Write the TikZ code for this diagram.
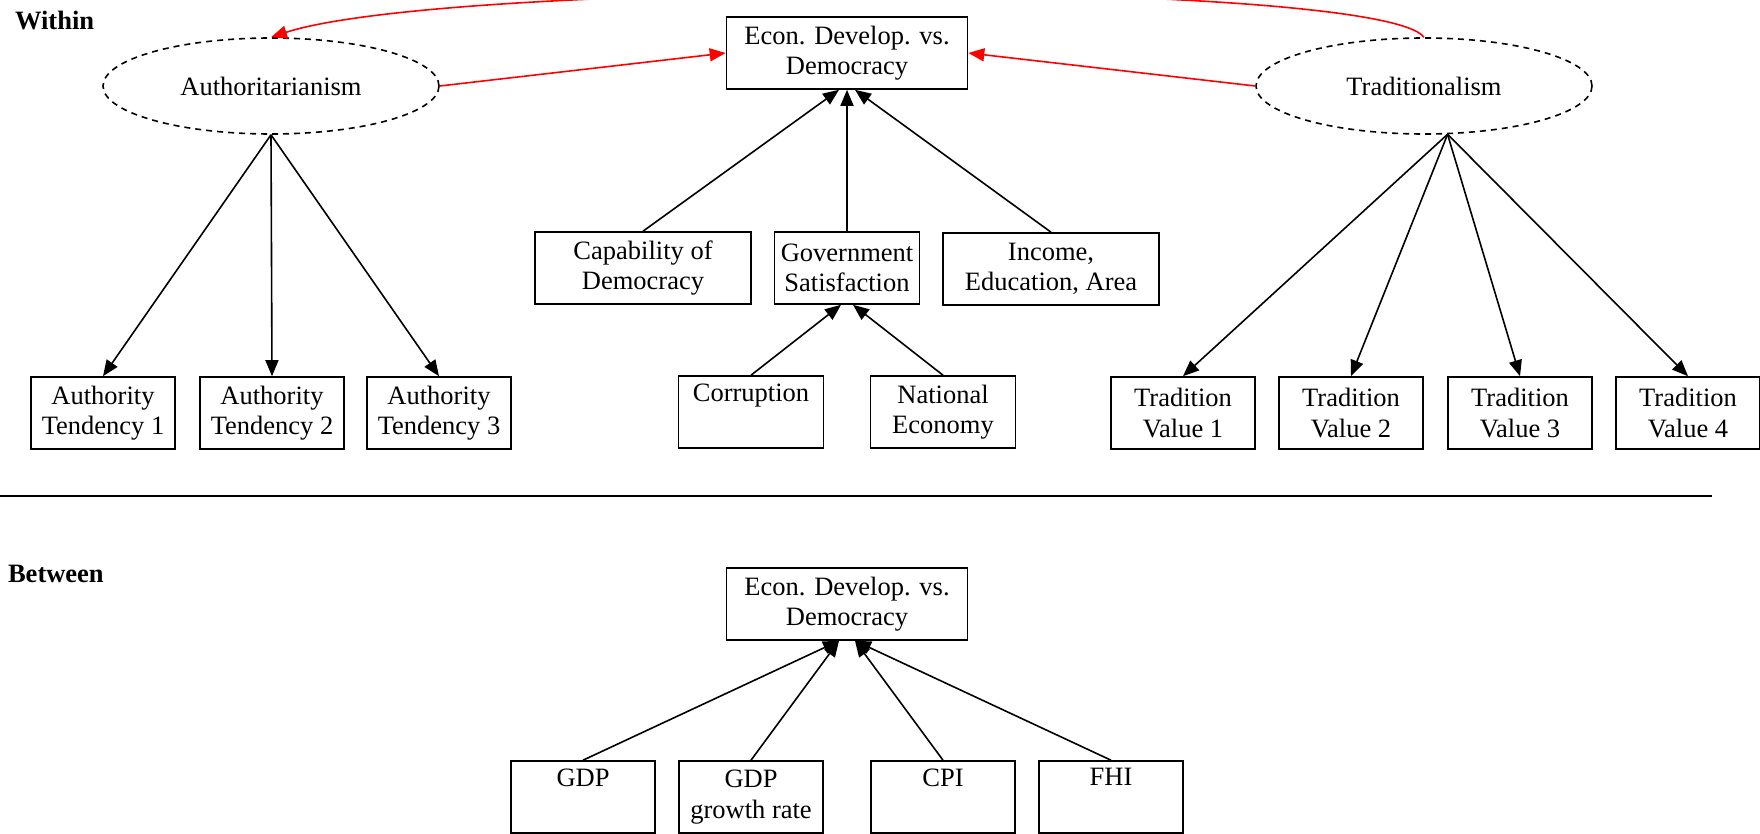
\documentclass[tikz,border=0pt]{standalone}
\usepackage{fontspec}
\setmainfont{Liberation Serif}
\usetikzlibrary{shapes.geometric,arrows.meta}
\tikzset{
  var/.style={draw, line width=0.8pt, align=center, minimum height=36pt, inner sep=2pt},
  latent/.style={draw, ellipse, line width=0.8pt, dash pattern=on 3pt off 2.5pt,
    minimum width=168pt, minimum height=48pt, inner sep=0pt},
  link/.style={line width=0.8pt, -{Triangle[length=8pt,width=6.5pt]}},
  covlink/.style={link, red}
}
\begin{document}
\begin{tikzpicture}[x=0.5pt,y=-0.5pt,every node/.style={font=\fontsize{13.25}{15.2}\selectfont}]
\clip (0,0) rectangle (1760,834);
\node[anchor=west] (within) at (8,21) {\textbf{Within}};
\node[anchor=west] (between) at (1,574) {\textbf{Between}};
% within level
\node[latent] (auth) at (271,86) {Authoritarianism};
\node[var, minimum width=120.5pt] (econ) at (847,53) {Econ. Develop. vs.\\Democracy};
\node[latent] (trad) at (1424,86) {Traditionalism};
\node[var, minimum width=108pt] (cap) at (643,268) {Capability of\\Democracy};
\node[var, minimum width=72.5pt] (gov) at (847,268) {Government\\Satisfaction};
\node[var, minimum width=108pt] (inc) at (1051,269) {Income,\\Education, Area};
\node[var, minimum width=72.5pt] (cor) at (751,412) {Corruption\\\strut};
\node[var, minimum width=72.5pt] (nat) at (943,412) {National\\Economy};
\node[var, minimum width=72pt] (at1) at (103,413) {Authority\\Tendency 1};
\node[var, minimum width=72pt] (at2) at (272,413) {Authority\\Tendency 2};
\node[var, minimum width=72pt] (at3) at (439,413) {Authority\\Tendency 3};
\node[var, minimum width=72pt] (tv1) at (1183,413) {Tradition\\Value 1};
\node[var, minimum width=72pt] (tv2) at (1351,413) {Tradition\\Value 2};
\node[var, minimum width=72pt] (tv3) at (1520,413) {Tradition\\Value 3};
\node[var, minimum width=72pt] (tv4) at (1688,413) {Tradition\\Value 4};
\draw[link] (cap.north) -- ([xshift=-4pt]econ.south);
\draw[link] (gov.north) -- (econ.south);
\draw[link] (inc.north) -- ([xshift=4pt]econ.south);
\draw[link] (cor.north) -- ([xshift=-3pt]gov.south);
\draw[link] (nat.north) -- ([xshift=3pt]gov.south);
\foreach \n in {at1,at2,at3}
  \draw[link] (auth.south) -- (\n.north);
\foreach \n in {tv1,tv2,tv3,tv4}
  \draw[link] (trad.-64) -- (\n.north);
\draw[covlink] (auth.east) -- (econ.west);
\draw[covlink] (trad.west) -- (econ.east);
\draw[covlink] (trad.north) .. controls (1380,-21) and (450,-21) .. (auth.north);
\draw[line width=0.8pt] (0,496) -- (1712,496);
% between level
\node[var, minimum width=120.5pt] (econ2) at (847,604) {Econ. Develop. vs.\\Democracy};
\node[var, minimum width=72pt] (gdp) at (583,797) {GDP\\\strut};
\node[var, minimum width=72pt] (gdpg) at (751,797) {GDP\\growth rate};
\node[var, minimum width=72pt] (cpi) at (943,797) {CPI\\\strut};
\node[var, minimum width=72pt] (fhi) at (1111,797) {FHI\\\strut};
\foreach \n/\s in {gdp/-4pt,gdpg/-4pt,cpi/4pt,fhi/4pt}
  \draw[link] (\n.north) -- ([xshift=\s]econ2.south);
\end{tikzpicture}
\end{document}
